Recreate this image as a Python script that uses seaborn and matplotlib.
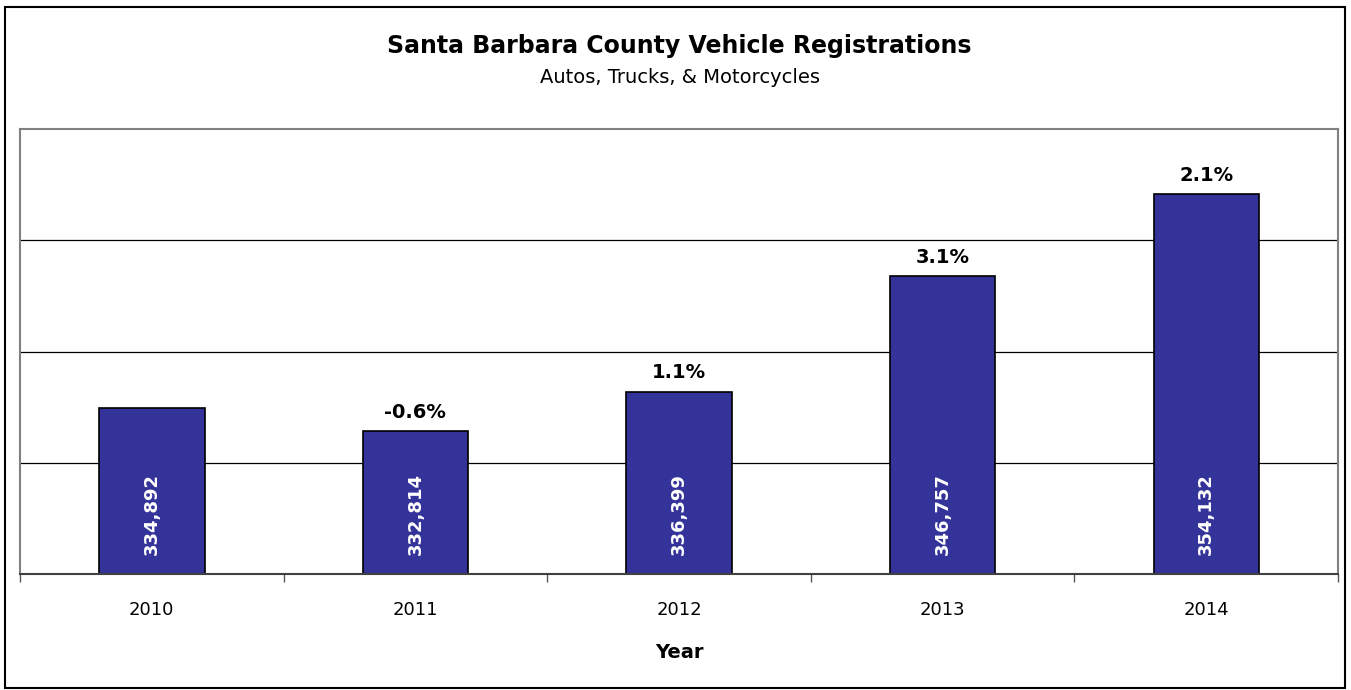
import pandas as pd
import seaborn as sns
import matplotlib.pyplot as plt
from matplotlib.patches import Rectangle

years = ['2010', '2011', '2012', '2013', '2014']
registrations = [334892, 332814, 336399, 346757, 354132]
pct_change = ['', '-0.6%', '1.1%', '3.1%', '2.1%']

df = pd.DataFrame({'Year': years, 'Registrations': registrations})

sns.set_style('white')
plt.rcParams['font.family'] = ['DejaVu Sans']
plt.rcParams['text.color'] = 'black'
plt.rcParams['xtick.color'] = 'black'
plt.rcParams['axes.labelcolor'] = 'black'

fig = plt.figure(figsize=(13.51, 6.90), dpi=100)
ax = fig.add_axes([0.0148, 0.1681, 0.9756, 0.6449])

sns.barplot(data=df, x='Year', y='Registrations', color='#333399',
            width=0.40, edgecolor='black', linewidth=1.2, saturation=1, ax=ax)

ax.set_ylim(320000, 360000)
ax.set_yticks([330000, 340000, 350000])
ax.yaxis.grid(True, color='black', linewidth=0.9)
ax.set_axisbelow(True)
ax.tick_params(axis='y', left=False, labelleft=False)

# minor ticks between categories like the original
ax.set_xticks([-0.5, 0.5, 1.5, 2.5, 3.5, 4.5], minor=True)
ax.tick_params(axis='x', which='major', bottom=False, labelsize=13, pad=16)
ax.tick_params(axis='x', which='minor', bottom=True, length=6, width=1, color='#555555')
ax.set_xlabel('Year', fontsize=14, fontweight='bold', labelpad=17)
ax.set_ylabel('')

for side in ['left', 'top', 'right']:
    ax.spines[side].set_color('#808080')
    ax.spines[side].set_linewidth(1.5)
ax.spines['bottom'].set_color('#404040')
ax.spines['bottom'].set_linewidth(1.5)

for i, bar in enumerate(ax.patches):
    xc = bar.get_x() + bar.get_width() / 2
    ax.annotate(f'{registrations[i]:,}', (xc, 320000), xytext=(0, 14),
                textcoords='offset points', rotation=90, ha='center', va='bottom',
                color='white', fontsize=13, fontweight='semibold')
    if pct_change[i]:
        ax.annotate(pct_change[i], (xc, bar.get_height()), xytext=(0, 7),
                    textcoords='offset points', ha='center', va='bottom',
                    fontsize=14, fontweight='bold')

fig.text(0.503, 0.934, 'Santa Barbara County Vehicle Registrations',
         ha='center', va='center', fontsize=17, fontweight='bold')
fig.text(0.503, 0.888, 'Autos, Trucks, & Motorcycles',
         ha='center', va='center', fontsize=14)

fig.patches.append(Rectangle((5 / 1351, 2 / 690), 1340 / 1351, 681 / 690,
                             transform=fig.transFigure, fill=False,
                             edgecolor='black', linewidth=1.5))

plt.savefig('out.png', dpi=100)
